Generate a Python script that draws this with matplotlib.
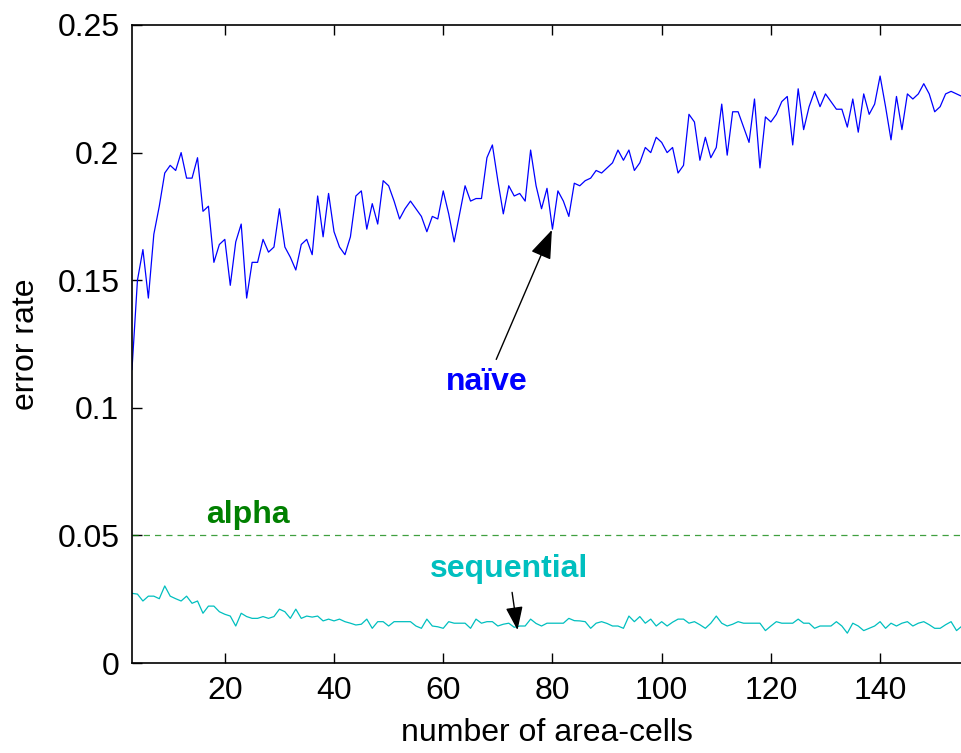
import numpy as np
import matplotlib
matplotlib.use('Agg')
import matplotlib.pyplot as plt

# data, one value per number of area-cells (3..155)
cells = np.arange(3, 156)

naive = [0.115, 0.150, 0.162, 0.143, 0.168, 0.179, 0.192, 0.195, 0.193, 0.200,
         0.190, 0.190, 0.198, 0.177, 0.179, 0.157, 0.164, 0.166, 0.148, 0.165,
         0.172, 0.143, 0.157, 0.157, 0.166, 0.161, 0.163, 0.178, 0.163, 0.159,
         0.154, 0.164, 0.166, 0.160, 0.183, 0.167, 0.184, 0.169, 0.163, 0.160,
         0.167, 0.183, 0.185, 0.170, 0.180, 0.172, 0.189, 0.187, 0.181, 0.174,
         0.178, 0.181, 0.178, 0.175, 0.169, 0.175, 0.174, 0.185, 0.176, 0.165,
         0.176, 0.187, 0.181, 0.182, 0.182, 0.198, 0.203, 0.189, 0.176, 0.187,
         0.183, 0.184, 0.181, 0.201, 0.187, 0.178, 0.186, 0.170, 0.185, 0.181,
         0.175, 0.188, 0.187, 0.189, 0.190, 0.193, 0.192, 0.194, 0.196, 0.201,
         0.197, 0.201, 0.193, 0.196, 0.202, 0.200, 0.206, 0.204, 0.200, 0.202,
         0.192, 0.195, 0.215, 0.212, 0.197, 0.206, 0.198, 0.202, 0.219, 0.199,
         0.216, 0.216, 0.210, 0.204, 0.221, 0.194, 0.214, 0.212, 0.215, 0.220,
         0.222, 0.203, 0.225, 0.209, 0.218, 0.224, 0.218, 0.223, 0.220, 0.217,
         0.217, 0.210, 0.221, 0.208, 0.223, 0.215, 0.219, 0.230, 0.218, 0.205,
         0.222, 0.209, 0.223, 0.221, 0.223, 0.227, 0.223, 0.216, 0.218, 0.223,
         0.224, 0.223, 0.222]

sequential = [0.0273, 0.0270, 0.0243, 0.0262, 0.0262, 0.0252, 0.0302, 0.0262, 0.0252, 0.0243,
              0.0262, 0.0234, 0.0243, 0.0195, 0.0223, 0.0223, 0.0201, 0.0191, 0.0184, 0.0145,
              0.0195, 0.0182, 0.0175, 0.0175, 0.0182, 0.0175, 0.0182, 0.0211, 0.0201, 0.0175,
              0.0211, 0.0175, 0.0184, 0.0180, 0.0184, 0.0165, 0.0172, 0.0165, 0.0172, 0.0162,
              0.0156, 0.0149, 0.0152, 0.0172, 0.0136, 0.0162, 0.0162, 0.0145, 0.0162, 0.0162,
              0.0162, 0.0162, 0.0145, 0.0136, 0.0172, 0.0145, 0.0142, 0.0136, 0.0162, 0.0156,
              0.0156, 0.0156, 0.0136, 0.0172, 0.0156, 0.0162, 0.0162, 0.0145, 0.0152, 0.0156,
              0.0140, 0.0145, 0.0145, 0.0172, 0.0155, 0.0145, 0.0156, 0.0156, 0.0156, 0.0156,
              0.0175, 0.0166, 0.0165, 0.0162, 0.0136, 0.0156, 0.0162, 0.0155, 0.0145, 0.0145,
              0.0136, 0.0184, 0.0162, 0.0182, 0.0156, 0.0172, 0.0145, 0.0162, 0.0145, 0.0160,
              0.0172, 0.0172, 0.0156, 0.0162, 0.0150, 0.0136, 0.0156, 0.0184, 0.0156, 0.0145,
              0.0152, 0.0162, 0.0156, 0.0156, 0.0156, 0.0156, 0.0127, 0.0145, 0.0162, 0.0156,
              0.0156, 0.0156, 0.0172, 0.0156, 0.0156, 0.0136, 0.0145, 0.0145, 0.0145, 0.0162,
              0.0145, 0.0117, 0.0156, 0.0145, 0.0127, 0.0136, 0.0145, 0.0162, 0.0136, 0.0156,
              0.0145, 0.0156, 0.0162, 0.0145, 0.0156, 0.0162, 0.0150, 0.0136, 0.0136, 0.0150,
              0.0162, 0.0127, 0.0145]

alpha = 0.05
xticks = [20, 40, 60, 80, 100, 120, 140]
yticks = [0, 0.05, 0.1, 0.15, 0.2, 0.25]
ytick_labels = ['0', '0.05', '0.1', '0.15', '0.2', '0.25']

plt.rcParams['font.family'] = ['Liberation Sans', 'DejaVu Sans']

fig = plt.figure(figsize=(9.62, 7.53), dpi=100)
ax = fig.add_axes([0.1372, 0.1195, 0.8628, 0.8473])

ax.plot(cells, naive, color='#0000FF', lw=0.9)
ax.plot(cells, sequential, color='#00BFBF', lw=0.9)
ax.axhline(alpha, color='#008000', lw=0.9, ls=(0, (5, 4)), alpha=0.75)

ax.set_xlim(3, 155)
ax.set_ylim(0, 0.25)
ax.set_xticks(xticks)
ax.set_yticks(yticks)
ax.set_yticklabels(ytick_labels)
ax.tick_params(direction='in', length=7, width=1, labelsize=23, top=True, right=False, pad=9)
ax.spines['right'].set_visible(False)
for s in ['left', 'bottom', 'top']:
    ax.spines[s].set_linewidth(1.2)

ax.set_xlabel('number of area-cells', fontsize=23, labelpad=9)
ax.set_ylabel('error rate', fontsize=23, labelpad=12)

# annotations
ax.annotate('naïve', xy=(79.9, 0.1697), xytext=(67.9, 0.110), color='#0000FF',
            fontsize=23, fontweight='bold', ha='center', va='center',
            arrowprops=dict(arrowstyle='-|>,head_length=0.6,head_width=0.22', color='black',
                            lw=1, mutation_scale=30, shrinkA=4, shrinkB=0))
ax.text(24.2, 0.058, 'alpha', color='#008000', fontsize=23, fontweight='bold',
        ha='center', va='center')
ax.annotate('sequential', xy=(73.6, 0.0129), xytext=(72.0, 0.0368), color='#00BFBF',
            fontsize=23, fontweight='bold', ha='center', va='center',
            arrowprops=dict(arrowstyle='-|>,head_length=0.6,head_width=0.22', color='black',
                            lw=1, mutation_scale=24, shrinkA=4, shrinkB=0))

fig.savefig('out.png', dpi=100)
